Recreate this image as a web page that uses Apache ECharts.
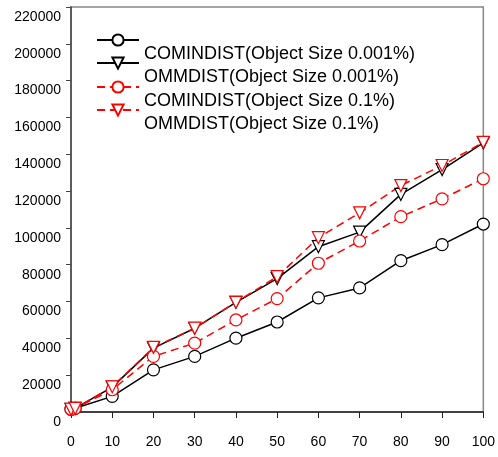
<!DOCTYPE html>
<html>
<head>
<meta charset="utf-8">
<script src="https://cdn.jsdelivr.net/npm/echarts@6/dist/echarts.min.js"></script>
<style>
html,body{margin:0;padding:0;background:#fff;}
#main{width:498px;height:457px;}
</style>
</head>
<body>
<div id="main"></div>
<script>
var xValues = [0, 1, 10, 20, 30, 40, 50, 60, 70, 80, 90, 100];
var seriesNames = [
  'COMINDIST(Object Size 0.001%)',
  'OMMDIST(Object Size 0.001%)',
  'COMINDIST(Object Size 0.1%)',
  'OMMDIST(Object Size 0.1%)'
];
var comindist001 = [1500, 2000, 8500, 22900, 30200, 40100, 48900, 62000, 67400, 82200, 90900, 102100];
var ommdist001 = [1500, 2000, 13500, 34700, 45500, 59600, 72500, 89800, 97700, 118200, 131700, 146200];
var comindist01 = [1500, 2000, 12100, 30200, 37400, 50000, 61600, 80800, 92900, 106100, 115800, 126700];
var ommdist01 = [1500, 2000, 13700, 35100, 45500, 59600, 73500, 94700, 108200, 123000, 133900, 146500];

function pairs(ys) { return xValues.map(function (x, i) { return [x, ys[i]]; }); }

var FONT = 'Liberation Sans';
function mk(name, ys, color, dashed, symbol) {
  return {
    name: name,
    type: 'line',
    data: pairs(ys),
    symbol: symbol,
    symbolSize: 12,
    symbolRotate: symbol === 'triangle' ? 180 : 0,
    showAllSymbol: true,
    lineStyle: { color: color, width: 1.5, type: dashed ? [8, 5] : 'solid' },
    itemStyle: { color: '#fff', borderColor: color, borderWidth: 1.2 },
    emphasis: { disabled: true },
    animation: false
  };
}

var legendTops = [6, 29, 53, 76];
var legends = seriesNames.map(function (n, i) {
  return {
    orient: 'vertical',
    left: 91,
    top: legendTops[i],
    itemWidth: 42,
    itemHeight: 14,
    symbolRotate: 'inherit',
    formatter: function (name) { return '\n' + name; },
    textStyle: { fontFamily: FONT, fontSize: 18, color: '#000', lineHeight: 29 },
    data: [n]
  };
});

var chart = echarts.init(document.getElementById('main'));
chart.setOption({
  backgroundColor: '#fff',
  animation: false,
  grid: { left: 71, right: 10, top: 7, bottom: 45, show: true, borderColor: '#888', borderWidth: 1.5 },
  legend: legends,
  xAxis: {
    type: 'value',
    min: 0, max: 100, interval: 10,
    axisLine: { show: true, lineStyle: { color: '#222', width: 1.5 } },
    axisTick: { show: true, length: 6, lineStyle: { color: '#222' } },
    axisLabel: { fontFamily: FONT, fontSize: 14, color: '#000', margin: 23 },
    splitLine: { show: false }
  },
  yAxis: {
    type: 'value',
    min: 0, max: 220000, interval: 20000,
    axisLine: { show: true, lineStyle: { color: '#444', width: 1.5 } },
    axisTick: { show: true, length: 5, lineStyle: { color: '#444' } },
    axisLabel: {
      fontFamily: FONT, fontSize: 14, color: '#000', margin: 10,
      verticalAlign: 'top', lineHeight: 20,
      formatter: function (v) { return String(v); }
    },
    splitLine: { show: false }
  },
  series: [
    mk(seriesNames[0], comindist001, '#000', false, 'circle'),
    mk(seriesNames[1], ommdist001, '#000', false, 'triangle'),
    mk(seriesNames[2], comindist01, '#f00', true, 'circle'),
    mk(seriesNames[3], ommdist01, '#f00', true, 'triangle')
  ]
});
</script>
</body>
</html>
